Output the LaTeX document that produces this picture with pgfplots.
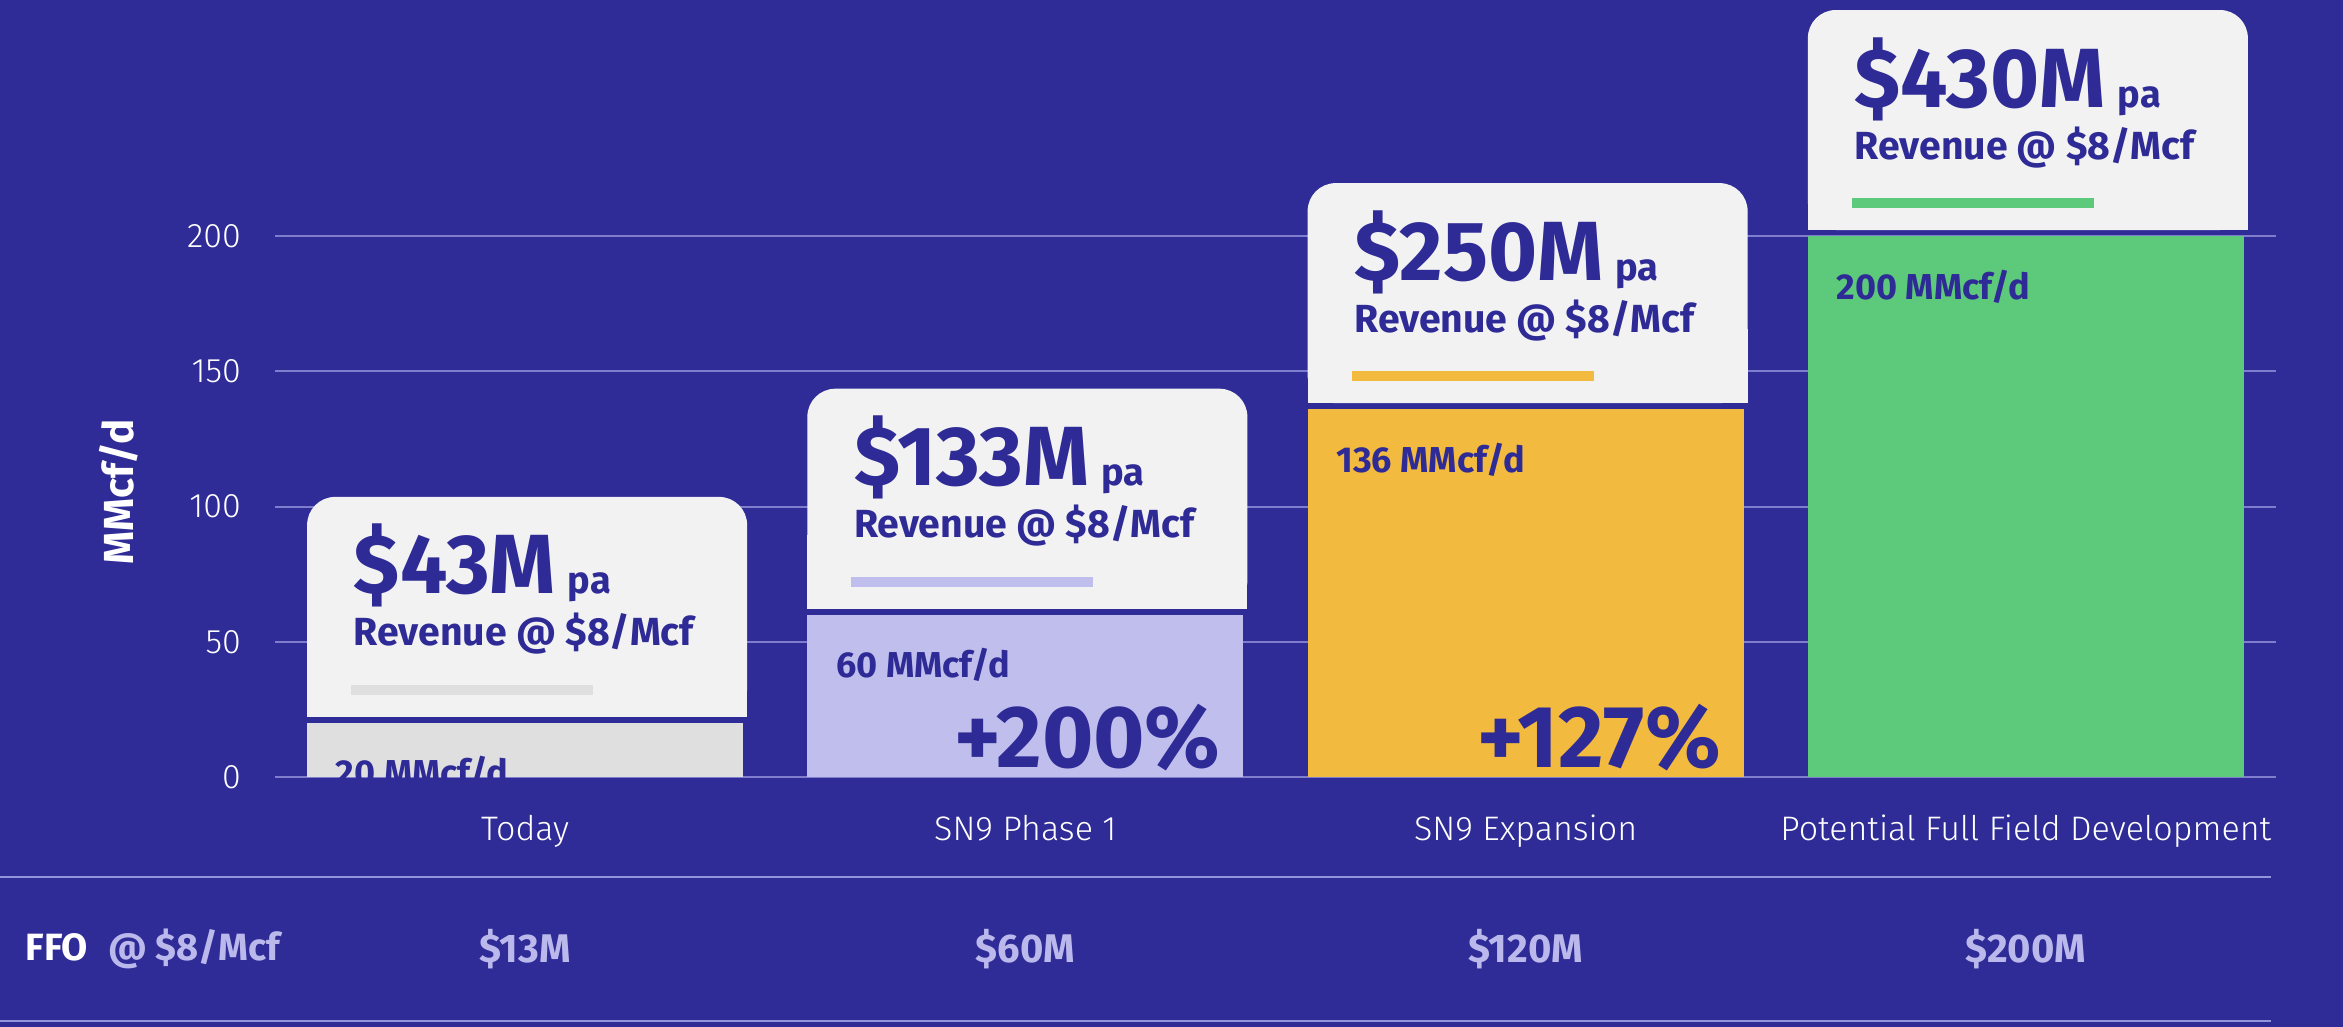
\documentclass[border=0pt]{standalone}
\usepackage{fontspec}
\setmainfont{Fira Sans}
\newfontfamily\lightfont{Fira Sans Light}
\usepackage{pgfplots}
\pgfplotsset{compat=1.18}

\definecolor{bg}{RGB}{47,43,151}
\definecolor{ink}{RGB}{46,42,150}
\definecolor{boxc}{RGB}{242,242,242}
\definecolor{graybar}{RGB}{223,223,223}
\definecolor{lavbar}{RGB}{192,190,236}
\definecolor{yelbar}{RGB}{242,186,63}
\definecolor{grnbar}{RGB}{93,201,122}
\definecolor{gridc}{RGB}{128,125,205}
\definecolor{rulec}{RGB}{150,148,222}
\definecolor{ffoc}{RGB}{187,185,236}

% revenue card above a bar: x, value, revenue, accent colour
\newcommand{\revbox}[4]{%
  \fill[boxc, rounded corners=7pt] ([xshift=-54.5pt,yshift=1.5pt]axis cs:#1,#2) rectangle ([xshift=55.5pt,yshift=56.5pt]axis cs:#1,#2);
  \fill[boxc] ([xshift=-54.5pt,yshift=1.5pt]axis cs:#1,#2) rectangle ([xshift=55.5pt,yshift=20pt]axis cs:#1,#2);
  \node[anchor=base west, inner sep=0pt, text=ink] at ([xshift=-43pt,yshift=32.25pt]axis cs:#1,#2)
    {\bfseries\fontsize{21}{24}\selectfont\$#3M\hspace{3pt}\fontsize{9.5}{11}\selectfont pa};
  \node[anchor=base west, inner sep=0pt, text=ink] at ([xshift=-43pt,yshift=19.25pt]axis cs:#1,#2)
    {\bfseries\fontsize{9.8}{11}\selectfont Revenue @ \$8/Mcf};
  \fill[#4] ([xshift=-43.5pt,yshift=7pt]axis cs:#1,#2) rectangle ([xshift=17pt,yshift=9.5pt]axis cs:#1,#2);
}
% volume label inside a bar, clipped by the bar
\newcommand{\barlabel}[2]{%
  \begin{scope}
    \clip ([xshift=-54.5pt]axis cs:#1,0) rectangle ([xshift=54.5pt]axis cs:#1,#2);
    \node[anchor=base west, inner sep=0pt, text=ink] at ([xshift=-47.5pt,yshift=-15.75pt]axis cs:#1,#2)
      {\bfseries\fontsize{9}{11}\selectfont #2 MMcf/d};
  \end{scope}
}

\begin{document}
\begin{tikzpicture}
\fill[bg] (-68.75pt,-62.5pt) rectangle (517pt,194.25pt);
\begin{axis}[
  scale only axis,
  width=500.25pt, height=135.25pt,
  xmin=-0.5, xmax=3.5, ymin=0, ymax=200,
  clip=false,
  axis line style={draw=none},
  major tick length=0pt,
  ytick={0,50,100,150,200},
  ymajorgrids=true,
  grid style={gridc, line width=0.5pt},
  xtick={0,1,2,3},
  xticklabels={Today, SN9 Phase 1, SN9 Expansion, Potential Full Field Development},
  /pgf/number format/assume math mode=true,
  tick label style={font=\lightfont\fontsize{8.5}{10}\selectfont, text=white},
  yticklabel style={anchor=east, xshift=-5pt},
  xticklabel style={anchor=base, yshift=-15.75pt},
  ylabel={MMcf/d},
  ylabel style={font=\bfseries\fontsize{10.5}{12}\selectfont, text=white,
    at={(axis description cs:-0.078,0.527)}, anchor=center},
]
\addplot[ybar, bar width=109pt, bar shift=0pt, fill=graybar, draw=none] coordinates {(0,20)};
\addplot[ybar, bar width=109pt, bar shift=0pt, fill=lavbar, draw=none] coordinates {(1,60)};
\addplot[ybar, bar width=109pt, bar shift=0pt, fill=yelbar, draw=none] coordinates {(2,136)};
\addplot[ybar, bar width=109pt, bar shift=0pt, fill=grnbar, draw=none] coordinates {(3,200)};

\revbox{0}{20}{43}{graybar}
\revbox{1}{60}{133}{lavbar}
\revbox{2}{136}{250}{yelbar}
\revbox{3}{200}{430}{grnbar}

\barlabel{0}{20}
\barlabel{1}{60}
\barlabel{2}{136}
\barlabel{3}{200}

\node[anchor=base east, inner sep=0pt, text=ink] at ([xshift=49pt,yshift=2.5pt]axis cs:1,0)
  {\bfseries\fontsize{22}{26}\selectfont +200\%};
\node[anchor=base east, inner sep=0pt, text=ink] at ([xshift=49pt,yshift=2.5pt]axis cs:2,0)
  {\bfseries\fontsize{22}{26}\selectfont +127\%};

% FFO row
\draw[rulec, line width=0.6pt] (axis cs:-1.05,-36.97) -- (axis cs:3.49,-36.97);
\draw[rulec, line width=0.6pt] (axis cs:-1.05,-90.2) -- (axis cs:3.49,-90.2);
\node[anchor=west, inner sep=0pt] at (axis cs:-1.0,-63.6)
  {\bfseries\fontsize{9.5}{11}\selectfont\textcolor{white}{FFO}\hspace{5pt}\textcolor{ffoc}{@ \$8/Mcf}};
\node[text=ffoc, inner sep=0pt] at (axis cs:0,-63.6) {\bfseries\fontsize{10}{12}\selectfont \$13M};
\node[text=ffoc, inner sep=0pt] at (axis cs:1,-63.6) {\bfseries\fontsize{10}{12}\selectfont \$60M};
\node[text=ffoc, inner sep=0pt] at (axis cs:2,-63.6) {\bfseries\fontsize{10}{12}\selectfont \$120M};
\node[text=ffoc, inner sep=0pt] at (axis cs:3,-63.6) {\bfseries\fontsize{10}{12}\selectfont \$200M};
\end{axis}
\pgfresetboundingbox
\path[use as bounding box] (-68.75pt,-62.5pt) rectangle (517pt,194.25pt);
\end{tikzpicture}
\end{document}
